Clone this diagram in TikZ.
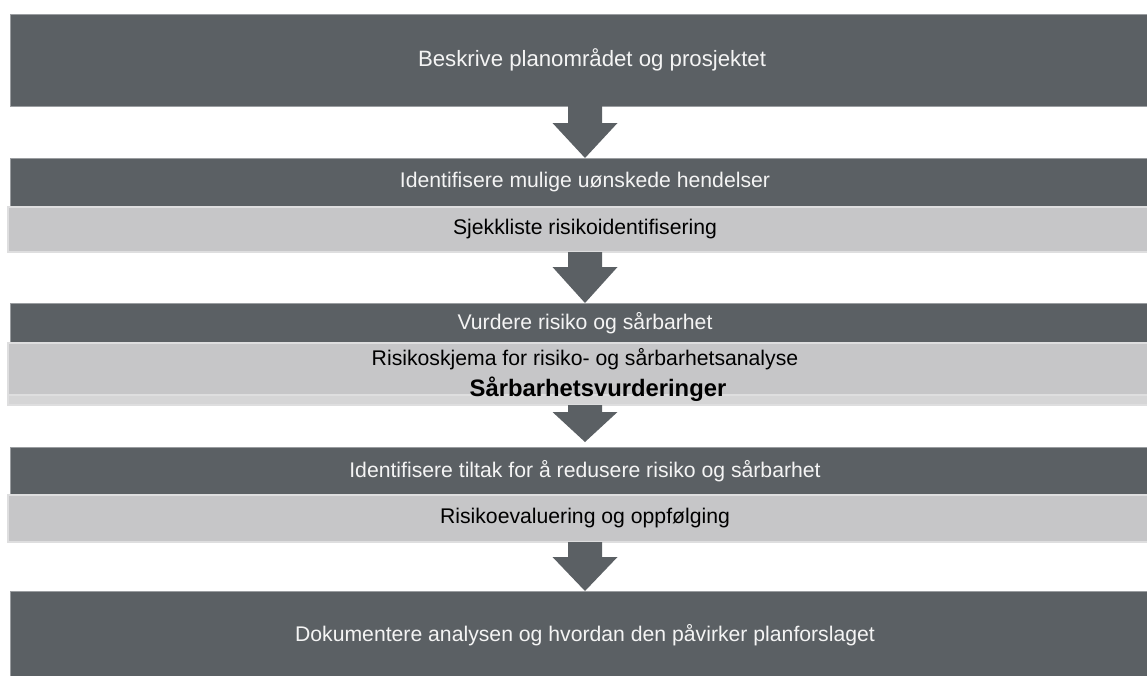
\documentclass[tikz,border=0pt]{standalone}
\usepackage{fontspec}
\setmainfont{Liberation Sans}
\usetikzlibrary{calc}
\definecolor{darkbox}{HTML}{5B6064}
\definecolor{darkedge}{HTML}{9A9DA0}
\definecolor{lightbox}{HTML}{C6C6C8}
\definecolor{lightedge}{HTML}{DEDEDF}
\definecolor{stripcol}{HTML}{D5D5D6}
\definecolor{textlight}{HTML}{F4F4F4}
\newcommand\fatarrow[4]{%
  \fill[darkbox] let \p1=(#1.south), \p2=(#2.north) in
   (\x1-17pt,\y1) -- (\x1+17pt,\y1) -- (\x1+17pt,\y2+#4pt+#3pt) -- (\x1+32.5pt,\y2+#4pt+#3pt)
   -- (\x1,\y2+#4pt) -- (\x1-32.5pt,\y2+#4pt+#3pt) -- (\x1-17pt,\y2+#4pt+#3pt) -- cycle;}
\begin{document}
\begin{tikzpicture}[x=1pt,y=-1pt,
  darkstep/.style={rectangle, fill=darkbox, draw=darkedge, line width=0.8pt, inner sep=0pt, outer sep=0pt,
    minimum width=1149.5pt, text=textlight, font=\fontsize{21.2}{30}\selectfont},
  lightstep/.style={rectangle, fill=lightbox, draw=lightedge, line width=1.2pt, inner sep=0pt, outer sep=0pt,
    minimum width=1154pt, text=black, font=\fontsize{21.2}{30}\selectfont},
  stripbox/.style={rectangle, fill=stripcol, draw=lightedge, line width=1.2pt, inner sep=0pt, outer sep=0pt,
    minimum width=1154pt},
  labeltext/.style={inner sep=0pt, outer sep=0pt, text=black, font=\fontsize{21.2}{30}\selectfont}
]
\useasboundingbox (0,0) rectangle (1147,675);
\clip (0,0) rectangle (1147,675);
\fill[white] (0,0) rectangle (1147,675);

\node[darkstep, minimum height=92pt] (b1) at (585,60) {};
\node[labeltext, text=textlight, font=\fontsize{22.2}{30}\selectfont] (b1t) at (592,60) {Beskrive planområdet og prosjektet};

\node[darkstep, minimum height=49pt] (b2) at (585,182.5) {Identifisere mulige uønskede hendelser};
\node[lightstep, minimum height=45pt] (l2) at (585,229.5) {Sjekkliste risikoidentifisering};

\node[darkstep, minimum height=40pt] (b3) at (585,323) {Vurdere risiko og sårbarhet};
\node[lightstep, minimum height=52pt] (l3) at (585,369) {};
\node[stripbox, minimum height=10pt] (l3s) at (585,400) {};
\node[labeltext] (l3t) at (585,359) {Risikoskjema for risiko- og sårbarhetsanalyse};
\node[labeltext, font=\fontsize{23.8}{30}\selectfont\bfseries] (l3b) at (598,389) {Sårbarhetsvurderinger};

\node[darkstep, minimum height=48pt] (b4) at (585,471) {Identifisere tiltak for å redusere risiko og sårbarhet};
\node[lightstep, minimum height=47pt] (l4) at (585,518.5) {Risikoevaluering og oppfølging};

\node[darkstep, minimum height=88pt] (b5) at (585,635) {Dokumentere analysen og hvordan den påvirker planforslaget};

\fatarrow{b1}{b2}{35}{0}
\fatarrow{l2}{b3}{36}{0}
\fatarrow{l3s}{b4}{30}{5}
\fatarrow{l4}{b5}{34}{0}
\end{tikzpicture}
\end{document}
